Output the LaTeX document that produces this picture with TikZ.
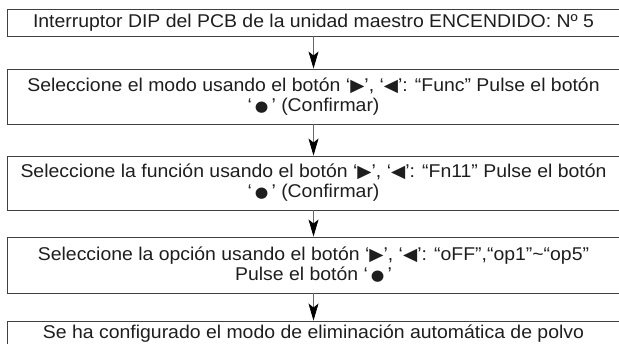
\documentclass[tikz,border=0pt]{standalone}
\usepackage{fontspec}
\setmainfont[FakeStretch=1.05]{Liberation Sans}
\newfontfamily\symfont[FakeStretch=1.05]{DejaVu Sans}
\usetikzlibrary{arrows.meta}
\newcommand{\tri}{{\symfont\scalebox{0.95}{▶}}}
\newcommand{\tril}{{\symfont\scalebox{0.95}{◀}}}
\newcommand{\dotb}{{\symfont\scalebox{0.8}{●}}}
\definecolor{txt}{HTML}{1E1E1E}
\definecolor{edge}{HTML}{404040}
\begin{document}
\begin{tikzpicture}[x=1pt,y=-1pt,
  stepbox/.style={draw=edge,line width=0.9pt,minimum width=613pt,inner sep=0pt,
    align=center,text=txt,font=\fontsize{18.5}{20}\selectfont},
  flow/.style={draw=gray!80!black,line width=0.8pt,-{Stealth[length=17pt,width=10pt,inset=4pt,black]}}]
\useasboundingbox (0,0) rectangle (619,343);
\clip (0,0) rectangle (619,343);
\node[stepbox,minimum height=27pt] (b1) at (313.5,22.5)
  {Interruptor DIP del PCB de la unidad maestro ENCENDIDO: Nº 5};
\node[stepbox,minimum height=55pt] (b2) at (313.5,96.5)
  {Seleccione el modo usando el botón ‘\tri’, ‘\tril’: “Func” Pulse el botón\\‘\,\dotb\,’ (Confirmar)};
\node[stepbox,minimum height=54pt] (b3) at (313.5,183)
  {Seleccione la función usando el botón ‘\tri’, ‘\tril’: “Fn11” Pulse el botón\\‘\,\dotb\,’ (Confirmar)};
\node[stepbox,minimum height=56pt] (b4) at (313.5,265)
  {Seleccione la opción usando el botón ‘\tri’, ‘\tril’: “oFF”,“op1”\textasciitilde“op5”\\Pulse el botón ‘\,\dotb\,’};
\node[stepbox,minimum height=26pt] (b5) at (313.5,334)
  {Se ha configurado el modo de eliminación automática de polvo};
\draw[flow] (b1) -- (b2);
\draw[flow] (b2) -- (b3);
\draw[flow] (b3) -- (b4);
\draw[flow] (b4) -- (b5);
\end{tikzpicture}
\end{document}
